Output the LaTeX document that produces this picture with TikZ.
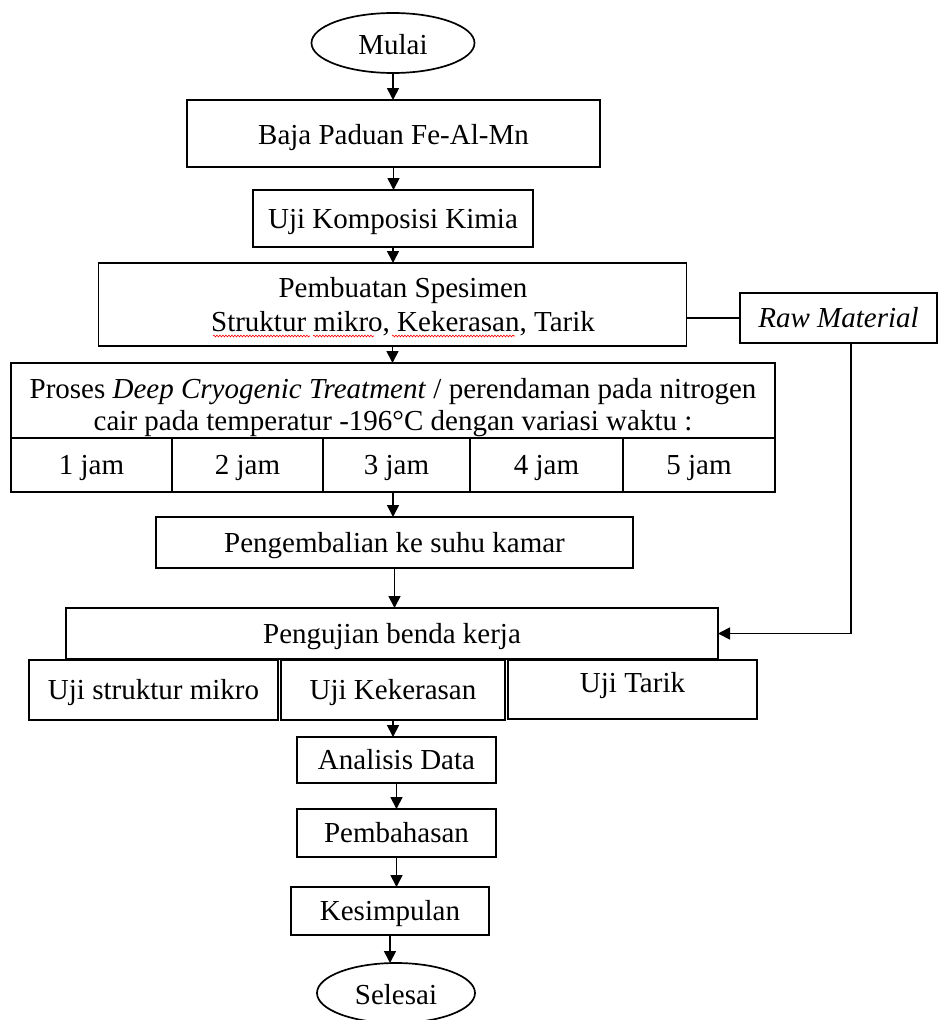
\documentclass[tikz,border=0pt]{standalone}
\usepackage{fontspec}
\setmainfont{Liberation Serif}
\usetikzlibrary{arrows.meta,shapes.geometric,decorations.pathmorphing}
\begin{document}
\begin{tikzpicture}[x=1pt,y=-1pt,
  every node/.style={font=\fontsize{29}{32}\selectfont, inner sep=0pt, outer sep=0pt},
  box/.style={draw, line width=1.7pt, rectangle, text height=22pt, text depth=3pt},
  term/.style={draw, line width=1.7pt, ellipse, text height=22pt, text depth=0pt},
  txt/.style={anchor=base},
  arr/.style={line width=1.7pt, -{Triangle[length=12pt,width=12pt]}},
  conn/.style={line width=1.7pt},
  squiggle/.style={red, line width=0.6pt, decorate, decoration={snake, amplitude=0.9pt, segment length=3pt}},
]
\useasboundingbox (0,0) rectangle (938,1020);

\node[term, minimum width=163pt, minimum height=60pt] (start) at (393,43) {Mulai};
\node[box, minimum width=413pt, minimum height=67pt, text depth=0pt] (baja) at (393.5,133.5) {Baja Paduan Fe-Al-Mn};
\node[box, minimum width=280pt, minimum height=57pt] (kimia) at (393,218.5) {Uji Komposisi Kimia};

\node[box, minimum width=588pt, minimum height=83pt] (spec) at (392.5,304.5) {};
\node[txt] (spec1) at (403,297) {Pembuatan Spesimen};
\node[txt] (spec2) at (403,331) {Struktur mikro, Kekerasan, Tarik};
\draw[squiggle] (213,336) -- (310,336);
\draw[squiggle] (313,336) -- (374,336);
\draw[squiggle] (392,336) -- (515,336);

\node[box, minimum width=197pt, minimum height=50pt] (raw) at (838.5,318) {\itshape Raw Material};

\node[box, minimum width=764pt, minimum height=75pt] (proc) at (393,400.5) {};
\node[txt] (proc1) at (393,398) {Proses \textit{Deep Cryogenic Treatment} / perendaman pada nitrogen};
\node[txt] (proc2) at (393,430) {cair pada temperatur -196°C dengan variasi waktu :};

\node[box, minimum width=161pt, minimum height=54pt] (j1) at (91.5,465) {1 jam};
\node[box, minimum width=151pt, minimum height=54pt] (j2) at (247.5,465) {2 jam};
\node[box, minimum width=147pt, minimum height=54pt] (j3) at (396.5,465) {3 jam};
\node[box, minimum width=153pt, minimum height=54pt] (j4) at (546.5,465) {4 jam};
\node[box, minimum width=152pt, minimum height=54pt] (j5) at (699,465) {5 jam};

\node[box, minimum width=477pt, minimum height=51pt] (back) at (394.5,542.5) {Pengembalian ke suhu kamar};
\node[box, minimum width=652pt, minimum height=51pt] (test) at (392,633.5) {Pengujian benda kerja};

\node[box, minimum width=249pt, minimum height=60pt] (t1) at (153.5,690) {Uji struktur mikro};
\node[box, minimum width=224pt, minimum height=60pt] (t2) at (393,690) {Uji Kekerasan};
\node[box, minimum width=249pt, minimum height=59pt, text depth=16pt] (t3) at (632.5,689.5) {Uji Tarik};

\node[box, minimum width=199pt, minimum height=46pt] (ana) at (396.5,760) {Analisis Data};
\node[box, minimum width=199pt, minimum height=48pt] (bah) at (396.5,833) {Pembahasan};
\node[box, minimum width=198pt, minimum height=48pt] (kes) at (390,911) {Kesimpulan};
\node[term, minimum width=158pt, minimum height=60pt] (stop) at (396,993) {Selesai};

\draw[arr] (start.south) -- (start.south |- baja.north);
\draw[arr] (baja.south) -- (baja.south |- kimia.north);
\draw[arr] (kimia.south) -- (kimia.south |- spec.north);
\draw[arr] (spec.south) -- (spec.south |- proc.north);
\draw[arr] (proc.south |- j3.south) -- (proc.south |- back.north);
\draw[arr] (back.south) -- (back.south |- test.north);
\draw[arr] (t2.south) -- (t2.south |- ana.north);
\draw[arr] (ana.south) -- (ana.south |- bah.north);
\draw[arr] (bah.south) -- (bah.south |- kes.north);
\draw[arr] (kes.south) -- (kes.south |- stop.north);

\draw[conn] (raw.west) -- (raw.west -| spec.east);
\draw[arr] ([xshift=12.5pt]raw.south) |- (test.east);
\end{tikzpicture}
\end{document}
